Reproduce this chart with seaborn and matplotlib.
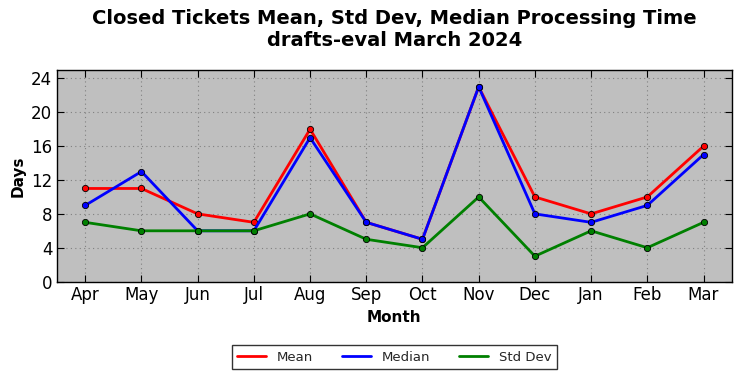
import numpy as np
import matplotlib
matplotlib.use('Agg')
import matplotlib.pyplot as plt
import pandas as pd
import seaborn as sns

months = ['Apr', 'May', 'Jun', 'Jul', 'Aug', 'Sep', 'Oct', 'Nov', 'Dec', 'Jan', 'Feb', 'Mar']
mean_days = [11, 11, 8, 7, 18, 7, 5, 23, 10, 8, 10, 16]
median_days = [9, 13, 6, 6, 17, 7, 5, 23, 8, 7, 9, 15]
std_days = [7, 6, 6, 6, 8, 5, 4, 10, 3, 6, 4, 7]

df = pd.DataFrame({'Month': months, 'Mean': mean_days, 'Median': median_days, 'Std Dev': std_days})
long = df.melt(id_vars='Month', var_name='Stat', value_name='Days')

sns.set_style('ticks')
plt.rcParams['font.family'] = ['DejaVu Sans']
plt.rcParams['text.color'] = 'black'
plt.rcParams['axes.labelcolor'] = 'black'
plt.rcParams['xtick.color'] = 'black'
plt.rcParams['ytick.color'] = 'black'

fig, ax = plt.subplots(figsize=(7.42, 3.78), dpi=100)
fig.subplots_adjust(left=0.077, right=0.986, top=0.815, bottom=0.255)
ax.set_facecolor('#bfbfbf')

palette = {'Mean': 'red', 'Median': 'blue', 'Std Dev': 'green'}
sns.lineplot(data=long, x='Month', y='Days', hue='Stat', palette=palette, sort=False,
             marker='o', markersize=4.5, markeredgecolor='black', markeredgewidth=0.6,
             linewidth=2, ax=ax)

ax.set_xlim(-0.5, 11.5)
ax.set_ylim(0, 25)
ax.set_yticks(range(0, 25, 4))
ax.grid(True, linestyle=(0, (1, 3)), color='#808080', linewidth=0.8)
ax.tick_params(axis='both', labelsize=12, direction='in', length=5, color='black',
               top=True, right=True)
for s in ax.spines.values():
    s.set_color('black')
    s.set_linewidth(1)
ax.set_xlabel('Month', fontsize=11, fontweight='bold')
ax.set_ylabel('Days', fontsize=11, fontweight='bold')
ax.set_title('Closed Tickets Mean, Std Dev, Median Processing Time\ndrafts-eval March 2024',
             fontsize=14, fontweight='bold', pad=17, color='black')

handles, labels = ax.get_legend_handles_labels()
leg = ax.legend(handles, labels, loc='upper center', bbox_to_anchor=(0.5, -0.27), ncol=3,
                fontsize=9.5, frameon=True, fancybox=False, edgecolor='black',
                handlelength=2.2, columnspacing=2.2, borderpad=0.4)
for h in leg.legend_handles:
    h.set_marker('')
for t in leg.get_texts():
    t.set_color('#262626')
leg.get_frame().set_linewidth(1)

fig.savefig('out.png', dpi=100)
